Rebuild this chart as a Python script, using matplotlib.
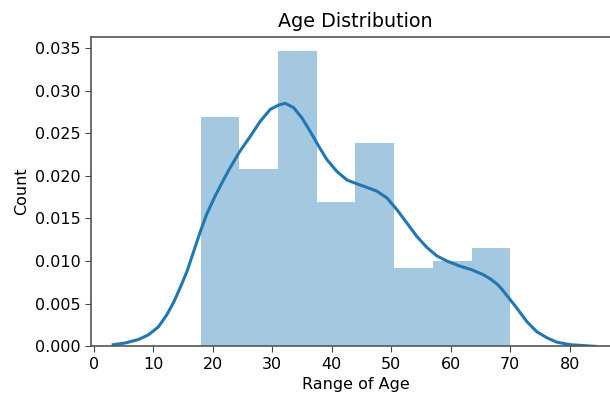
import numpy as np
import matplotlib
matplotlib.use("Agg")
import matplotlib.pyplot as plt

# histogram of ages (200 customers), bins
bin_edges = [18, 24.5, 31, 37.5, 44, 50.5, 57, 63.5, 70]
counts = [35, 27, 45, 22, 31, 12, 13, 15]
n_total = 200

# kde curve
kde_x = [3.3, 5.3, 7.5, 9.2, 10.9, 12.3, 13.4, 14.5, 15.7, 16.8, 17.9, 19.0,
         20.4, 21.8, 22.9, 24.6, 26.3, 28.0, 29.7, 31.1, 32.2, 33.6, 35.0,
         36.4, 37.8, 39.2, 40.9, 42.6, 44.5, 45.3, 47.6, 49.3, 51.0, 52.6,
         54.3, 56.0, 57.7, 59.4, 61.6, 63.5, 65.5, 66.7, 67.8, 68.6, 69.4,
         71.1, 72.8, 74.5, 76.2, 77.8, 80.1, 84.4]
kde_y = [0.0002, 0.0004, 0.0008, 0.00135, 0.0023, 0.0037, 0.0051, 0.0068,
         0.0088, 0.0111, 0.0134, 0.0155, 0.0176, 0.0195, 0.0209, 0.0229,
         0.0246, 0.0264, 0.0278, 0.0283, 0.0285, 0.0280, 0.0268, 0.0252,
         0.0235, 0.0219, 0.0205, 0.0195, 0.0190, 0.0188, 0.0182, 0.0174,
         0.0160, 0.0145, 0.0129, 0.0116, 0.0106, 0.0100, 0.0094, 0.0090,
         0.0084, 0.0079, 0.0073, 0.0067, 0.0060, 0.0045, 0.0029, 0.0017,
         0.0010, 0.0005, 0.0002, 0.0]

blue = "#1f77b4"

fig = plt.figure(figsize=(6.1, 4.09), dpi=100)
ax = fig.add_axes([0.149, 0.153, 0.868, 0.757])

edges = np.array(bin_edges)
dens = np.array(counts) / (n_total * np.diff(edges))
ax.bar(edges[:-1], dens, width=np.diff(edges), align="edge",
       color=blue, alpha=0.4, linewidth=0)
ax.plot(kde_x, kde_y, color=blue, lw=2.2, solid_joinstyle="round")

ax.set_xlim(-0.45, 88.5)
ax.set_ylim(0, 0.0363)
ax.set_xticks(np.arange(0, 81, 10))
ax.set_yticks(np.arange(0, 0.0351, 0.005))
ax.yaxis.set_major_formatter(matplotlib.ticker.FormatStrFormatter("%.3f"))
ax.tick_params(labelsize=11.5, color="#444444", length=4)

for s in ax.spines.values():
    s.set_color("#555555")
    s.set_linewidth(1.2)

ax.set_title("Age Distribution", fontsize=13.8, pad=7)
ax.set_xlabel("Range of Age", fontsize=11.5)
ax.set_ylabel("Count", fontsize=11.5)

fig.savefig("out.png", dpi=100)
